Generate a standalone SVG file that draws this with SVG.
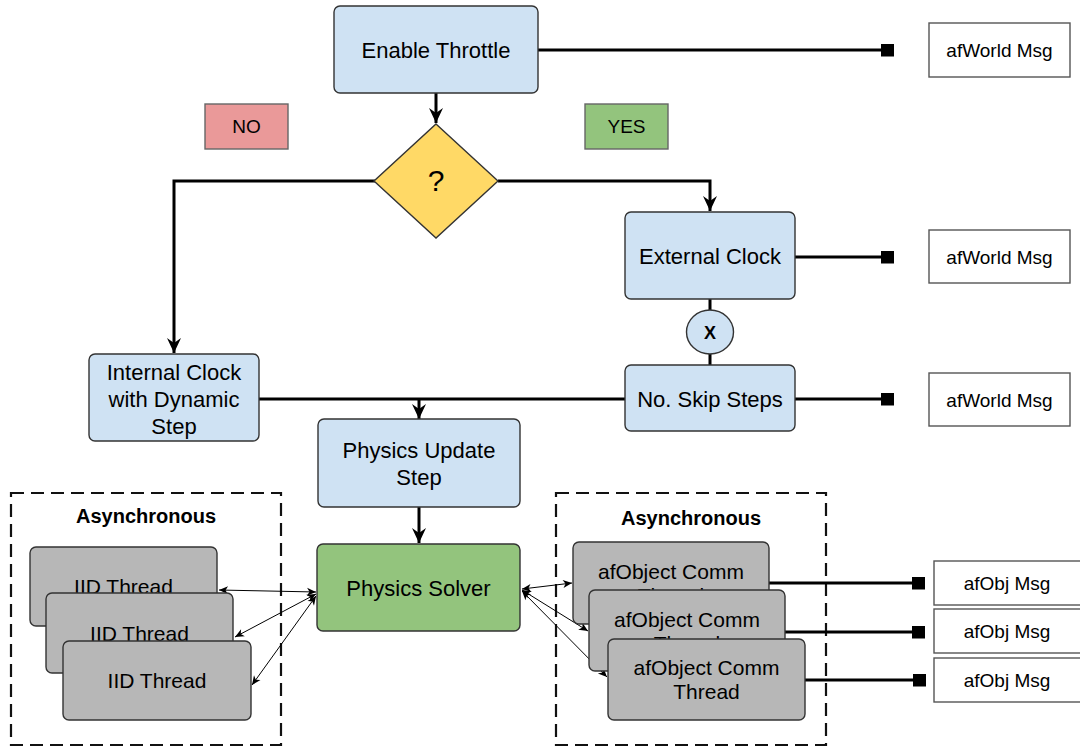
<svg xmlns="http://www.w3.org/2000/svg" width="1080" height="748" viewBox="0 0 1080 748">
  <style>
    .lbl { font-family: "Liberation Sans", Arial, sans-serif; font-size: 22px; fill: #000; text-anchor: middle; }
    .thr { font-family: "Liberation Sans", Arial, sans-serif; font-size: 21px; fill: #000; text-anchor: middle; }
    .msg { font-family: "Liberation Sans", Arial, sans-serif; font-size: 19px; fill: #000; text-anchor: middle; }
    .bold { font-family: "Liberation Sans", Arial, sans-serif; font-size: 20px; font-weight: bold; fill: #000; text-anchor: middle; }
    .blue { fill: #cfe2f3; stroke: #333; stroke-width: 1.4; }
    .green { fill: #93c47d; stroke: #333; stroke-width: 1.4; }
    .gray { fill: #b7b7b7; stroke: #333; stroke-width: 1.4; }
    .white { fill: #fff; stroke: #555; stroke-width: 1.4; }
    .tag { stroke: #666; stroke-width: 1.4; }
    .dash { fill: none; stroke: #111; stroke-width: 2.2; stroke-dasharray: 13 7; }
    .thick { fill: none; stroke: #000; stroke-width: 3; }
    .thin { fill: none; stroke: #000; stroke-width: 1; }
  </style>
  <defs>
    <marker id="arrow" viewBox="-16 -8 18 16" markerWidth="18" markerHeight="16" refX="0" refY="0" orient="auto" markerUnits="userSpaceOnUse">
      <path d="M -15 -7 L 0 0 L -15 7 L -10 0 Z" fill="#000"/>
    </marker>
    <marker id="tip" viewBox="-10 -5 11 10" markerWidth="11" markerHeight="10" refX="0" refY="0" orient="auto-start-reverse" markerUnits="userSpaceOnUse">
      <path d="M -9 -4 L 0 0 L -9 4 L -6.5 0 Z" fill="#000"/>
    </marker>
    <marker id="sq" viewBox="0 0 13 13" markerWidth="13" markerHeight="13" refX="6.5" refY="6.5" orient="auto" markerUnits="userSpaceOnUse">
      <rect x="0" y="0" width="13" height="13" fill="#000"/>
    </marker>
  </defs>

  <rect width="1080" height="748" fill="#fff"/>

  <!-- asynchronous groupings -->
  <g id="async-left">
    <rect class="dash" x="11" y="493" width="270" height="252"/>
    <text class="bold" x="146" y="523">Asynchronous</text>
  </g>
  <g id="async-right">
    <rect class="dash" x="556" y="493" width="270" height="252"/>
    <text class="bold" x="691" y="525">Asynchronous</text>
  </g>

  <!-- connectors -->
  <g id="connectors">
    <line class="thick" x1="436" y1="93" x2="436" y2="123" marker-end="url(#arrow)"/>
    <polyline class="thick" points="375,181 174,181 174,353" marker-end="url(#arrow)"/>
    <polyline class="thick" points="498,181 710,181 710,211" marker-end="url(#arrow)"/>
    <line class="thick" x1="538" y1="50" x2="887.5" y2="50" marker-end="url(#sq)"/>
    <line class="thick" x1="795" y1="257" x2="887.5" y2="257" marker-end="url(#sq)"/>
    <line class="thick" x1="795" y1="399" x2="887.5" y2="399" marker-end="url(#sq)"/>
    <line class="thick" x1="710" y1="299" x2="710" y2="365"/>
    <line class="thick" x1="259" y1="399" x2="625" y2="399"/>
    <line class="thick" x1="419" y1="399" x2="419" y2="419" marker-end="url(#arrow)"/>
    <line class="thick" x1="419" y1="507" x2="419" y2="543" marker-end="url(#arrow)"/>
    <line class="thick" x1="769" y1="583" x2="918.5" y2="583" marker-end="url(#sq)"/>
    <line class="thick" x1="785" y1="632" x2="918.5" y2="632" marker-end="url(#sq)"/>
    <line class="thick" x1="805" y1="680" x2="919.5" y2="680" marker-end="url(#sq)"/>
    <line class="thin" x1="316" y1="592" x2="219" y2="590" marker-start="url(#tip)" marker-end="url(#tip)"/>
    <line class="thin" x1="316" y1="594" x2="235" y2="637" marker-start="url(#tip)" marker-end="url(#tip)"/>
    <line class="thin" x1="316" y1="596" x2="252" y2="685" marker-start="url(#tip)" marker-end="url(#tip)"/>
    <line class="thin" x1="522" y1="589" x2="572" y2="583" marker-start="url(#tip)" marker-end="url(#tip)"/>
    <line class="thin" x1="522" y1="590" x2="588" y2="631" marker-start="url(#tip)" marker-end="url(#tip)"/>
    <line class="thin" x1="522" y1="591" x2="607" y2="677" marker-start="url(#tip)" marker-end="url(#tip)"/>
  </g>

  <g id="enable-throttle">
    <rect class="blue" x="334" y="6" width="204" height="87" rx="6"/>
    <text class="lbl" x="436" y="58">Enable Throttle</text>
  </g>

  <g id="label-no">
    <rect class="tag" x="205" y="104" width="83" height="45" fill="#ea9999"/>
    <text class="msg" x="246.5" y="133">NO</text>
  </g>
  <g id="label-yes">
    <rect class="tag" x="585" y="104" width="83" height="45" fill="#93c47d"/>
    <text class="msg" x="626.5" y="133">YES</text>
  </g>

  <g id="decision">
    <polygon points="436,124 498,181 436,238 374,181" fill="#ffd966" stroke="#333" stroke-width="1.4"/>
    <text class="lbl" x="436" y="191" style="font-size:30px">?</text>
  </g>

  <g id="external-clock">
    <rect class="blue" x="625" y="212" width="170" height="87" rx="6"/>
    <text class="lbl" x="710" y="264">External Clock</text>
  </g>

  <g id="multiply">
    <ellipse class="blue" cx="710" cy="332" rx="23.5" ry="22"/>
    <text class="bold" x="710" y="339" style="font-size:18px">X</text>
  </g>

  <g id="skip-steps">
    <rect class="blue" x="625" y="365" width="170" height="66" rx="6"/>
    <text class="lbl" x="710" y="407">No. Skip Steps</text>
  </g>

  <g id="internal-clock">
    <rect class="blue" x="89" y="354" width="170" height="87" rx="6"/>
    <text class="lbl" x="174" y="380">Internal Clock</text>
    <text class="lbl" x="174" y="407">with Dynamic</text>
    <text class="lbl" x="174" y="434">Step</text>
  </g>

  <g id="physics-update">
    <rect class="blue" x="318" y="419" width="202" height="88" rx="6"/>
    <text class="lbl" x="419" y="458">Physics Update</text>
    <text class="lbl" x="419" y="485">Step</text>
  </g>

  <g id="physics-solver">
    <rect class="green" x="317" y="544" width="203" height="87" rx="6"/>
    <text class="lbl" x="418.5" y="596">Physics Solver</text>
  </g>

  <g id="world-msg-1">
    <rect class="white" x="929" y="23" width="141" height="54"/>
    <text class="msg" x="999.5" y="57">afWorld Msg</text>
  </g>
  <g id="world-msg-2">
    <rect class="white" x="929" y="230" width="141" height="53"/>
    <text class="msg" x="999.5" y="264">afWorld Msg</text>
  </g>
  <g id="world-msg-3">
    <rect class="white" x="929" y="373" width="141" height="53"/>
    <text class="msg" x="999.5" y="407">afWorld Msg</text>
  </g>

  <g id="iid-thread-1">
    <rect class="gray" x="30" y="547" width="187" height="79" rx="6"/>
    <text class="thr" x="123.5" y="594">IID Thread</text>
  </g>
  <g id="iid-thread-2">
    <rect class="gray" x="46" y="593" width="187" height="80" rx="6"/>
    <text class="thr" x="139.5" y="641">IID Thread</text>
  </g>
  <g id="iid-thread-3">
    <rect class="gray" x="63" y="641" width="188" height="79" rx="6"/>
    <text class="thr" x="157" y="688">IID Thread</text>
  </g>

  <g id="comm-thread-1">
    <rect class="gray" x="573" y="542" width="196" height="82" rx="6"/>
    <text class="thr" x="671" y="579">afObject Comm</text>
    <text class="thr" x="671" y="603">Thread</text>
  </g>
  <g id="comm-thread-2">
    <rect class="gray" x="589" y="590" width="196" height="81" rx="6"/>
    <text class="thr" x="687" y="627">afObject Comm</text>
    <text class="thr" x="687" y="651">Thread</text>
  </g>
  <g id="comm-thread-3">
    <rect class="gray" x="608" y="639" width="197" height="81" rx="6"/>
    <text class="thr" x="706.5" y="675">afObject Comm</text>
    <text class="thr" x="706.5" y="699">Thread</text>
  </g>

  <g id="obj-msg-1">
    <rect class="white" x="934" y="561" width="150" height="44"/>
    <text class="msg" x="1007" y="590">afObj Msg</text>
  </g>
  <g id="obj-msg-2">
    <rect class="white" x="934" y="609" width="150" height="44"/>
    <text class="msg" x="1007" y="638">afObj Msg</text>
  </g>
  <g id="obj-msg-3">
    <rect class="white" x="934" y="658" width="150" height="44"/>
    <text class="msg" x="1007" y="687">afObj Msg</text>
  </g>
</svg>
